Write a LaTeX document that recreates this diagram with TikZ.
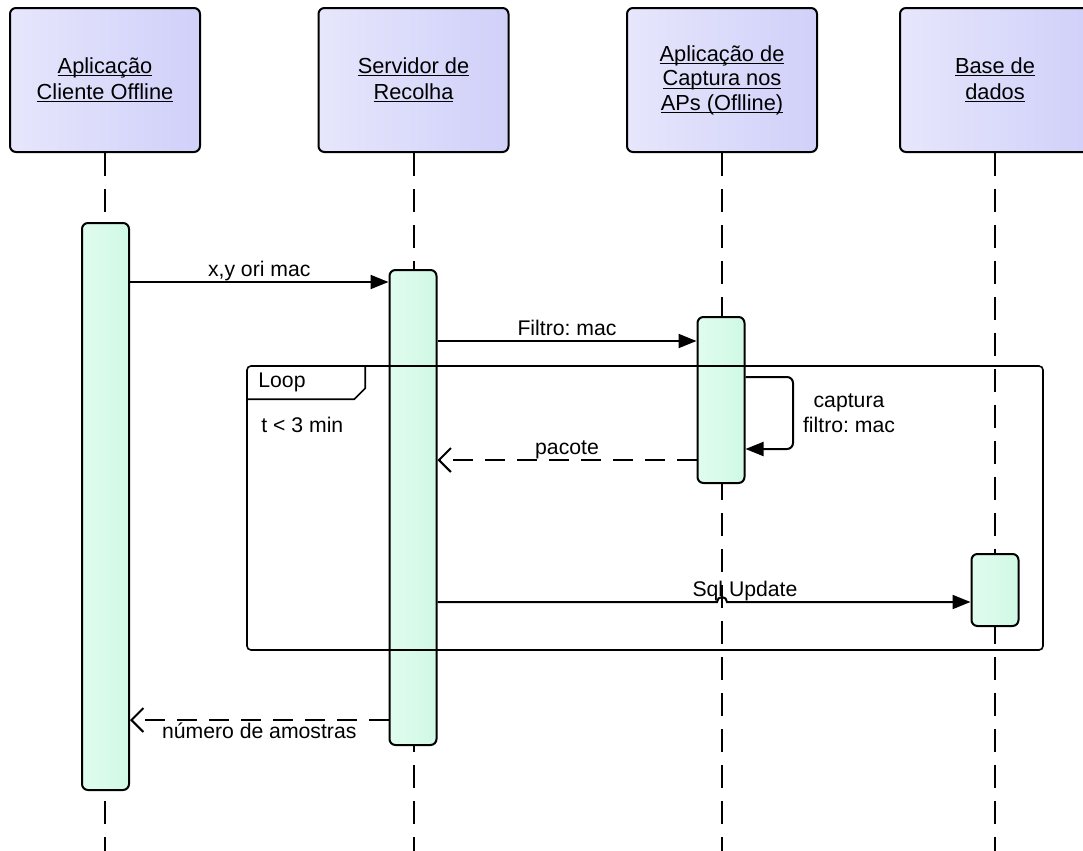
\documentclass[tikz,border=0pt]{standalone}
\usepackage{fontspec}
\setmainfont{Liberation Sans}
\usepackage{tikz}
\usetikzlibrary{positioning}
\usetikzlibrary{arrows.meta}
\usetikzlibrary{calc}

\definecolor{headlight}{RGB}{230,230,252}
\definecolor{headdark}{RGB}{208,208,250}
\definecolor{barlight}{RGB}{224,252,238}
\definecolor{bardark}{RGB}{208,249,229}

% underlined participant name
\newcommand{\ulname}[1]{\setbox0\hbox{#1}\rlap{\rule[-1.6pt]{\wd0}{0.6pt}}\box0}

\tikzset{
  head/.style={draw, line width=1pt, rounded corners=3pt, left color=headlight, right color=headdark,
    minimum width=95pt, minimum height=72pt, align=center},
  lifeline/.style={line width=1pt, dash pattern=on 11.5pt off 6.5pt},
  actbar/.style={draw, line width=1pt, rounded corners=3pt, left color=barlight, right color=bardark,
    minimum width=23.5pt},
  call/.style={line width=1pt, -{Triangle[length=9pt,width=7pt]}},
  reply/.style={line width=1pt, dash pattern=on 10pt off 6pt, -{Straight Barb[length=6pt,width=12pt]}},
  lbl/.style={inner sep=0pt, text depth=2.4pt},
  loopframe/.style={draw, line width=0.8pt, rounded corners=2pt}
}

\begin{document}
\frenchspacing
\begin{tikzpicture}[x=0.5pt, y=-0.5pt, font=\fontsize{10.6}{12.6}\selectfont]
		\useasboundingbox (0,0) rectangle (1083,851);

		% Participants
		\node[head, font=\fontsize{10.9}{13}\selectfont] (client) at (105,80) {\ulname{Aplicação}\\\ulname{Cliente Offline}};
		\node[head, font=\fontsize{10.9}{13}\selectfont] (server) at (413.5,80) {\ulname{Servidor de}\\\ulname{Recolha}};
		\node[head, font=\fontsize{10.9}{12.3}\selectfont] (capture) at (722,80) {\ulname{Aplicação de}\\\ulname{Captura nos}\\\ulname{APs (Oflline)}};
		\node[head, font=\fontsize{10.9}{13}\selectfont] (db) at (995,80) {\ulname{Base de}\\\ulname{dados}};

		% Lifelines
		\coordinate (bottom) at (0,851);
		\foreach \p in {client, server, capture, db} {
				\draw[lifeline] (\p.south) -- (\p.south |- bottom);
			}

		% Activations
		\node[actbar, minimum height=283.5pt] (act1) at (105.5,506.5) {};
		\node[actbar, minimum height=237.5pt] (act2) at (413,507.5) {};
		\node[actbar, minimum height=83pt] (act3) at (721,400) {};
		\node[actbar, minimum height=36pt] (act4) at (995,590) {};

		% Messages
		\coordinate (m1) at (0,282);
		\coordinate (m2) at (0,341);
		\coordinate (s1) at (0,377);
		\coordinate (s2) at (0,449);
		\coordinate (m3) at (0,460);
		\coordinate (m4) at (0,602);
		\coordinate (m5) at (0,720);
		\coordinate (selfx) at (793,0);

		\draw[call] (act1.east |- m1) -- node[lbl, above] (txt1) {x,y ori mac} (act2.west |- m1);
		\draw[call] (act2.east |- m2) -- node[lbl, above] (txt2) {Filtro: mac} (act3.west |- m2);
		\draw[call, rounded corners=3pt] (act3.east |- s1) -| (selfx |- s2) -- (act3.east |- s2);
		\node[align=center] (txt3) at (849,413) {captura\\filtro: mac};
		\draw[reply] (act3.west |- m3) -- node[lbl, above] (txt4) {pacote} (act2.east |- m3);

		% Sql Update hops over the capture lifeline
		\coordinate (hop) at (capture.south |- m4);
		\draw[call] (act2.east |- m4) -- ($(hop)+(-5,0)$) arc[start angle=180, end angle=0, radius=2.5pt]
			-- (act4.west |- m4);
		\node[lbl, above] (txt5) at (745,602) {Sql Update};

		\draw[reply] (act2.west |- m5) -- node[below, inner sep=1pt] (txt6) {número de amostras} (act1.east |- m5);

		% Loop fragment
		\node[loopframe, minimum width=398pt, minimum height=142pt] (loopbox) at (645,508) {};
		\draw[line width=0.8pt] ($(loopbox.north west)+(0,34)$) -- ++(108,0) -- ++(11,-11) -- ++(0,-23);
		\node[anchor=base west, inner sep=0pt] (looptag) at (258,387) {Loop};
		\node[anchor=base west, inner sep=0pt] (guard) at (261,432) {t < 3 min};
	\end{tikzpicture}
\end{document}
